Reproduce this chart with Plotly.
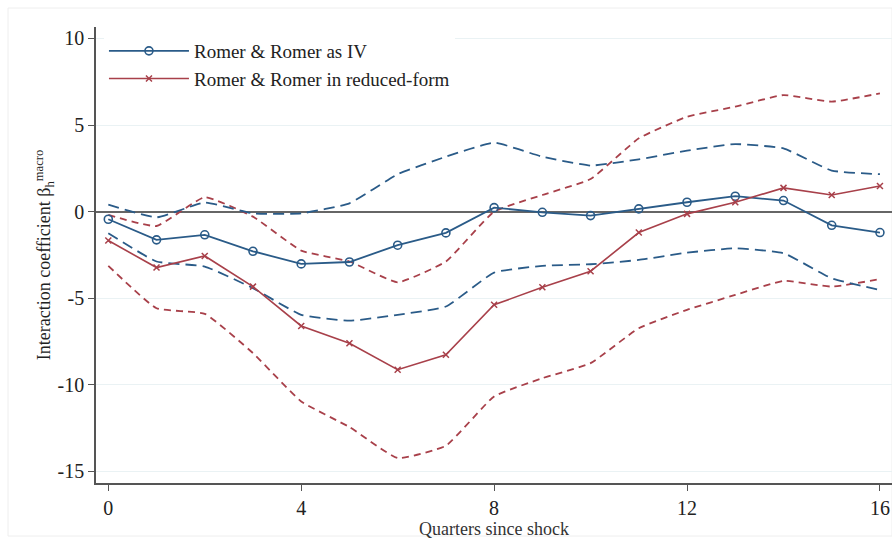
import plotly.graph_objects as go

quarters = list(range(17))

iv_coef = [-0.44, -1.63, -1.34, -2.29, -3.02, -2.91, -1.94, -1.23, 0.23, -0.04, -0.23,
           0.16, 0.54, 0.89, 0.64, -0.79, -1.21]
iv_upper = [0.40, -0.33, 0.52, -0.10, -0.10, 0.48, 2.16, 3.17, 3.98, 3.17, 2.66,
            3.02, 3.52, 3.90, 3.65, 2.37, 2.16]
iv_lower = [-1.25, -2.88, -3.17, -4.42, -5.96, -6.30, -5.96, -5.48, -3.52, -3.13, -3.04,
            -2.79, -2.37, -2.12, -2.40, -3.85, -4.52]

rf_coef = [-1.67, -3.23, -2.56, -4.33, -6.60, -7.60, -9.13, -8.27, -5.38, -4.37, -3.44,
           -1.21, -0.13, 0.54, 1.37, 0.96, 1.48]
rf_upper = [-0.19, -0.83, 0.83, -0.29, -2.25, -2.88, -4.08, -2.88, 0.00, 0.96, 1.88,
            4.23, 5.48, 6.06, 6.73, 6.35, 6.83]
rf_lower = [-3.13, -5.58, -5.90, -8.17, -10.96, -12.44, -14.23, -13.52, -10.67, -9.62, -8.75,
            -6.73, -5.67, -4.81, -4.00, -4.33, -3.90]

x_ticks = [0, 4, 8, 12, 16]
y_ticks = [-15, -10, -5, 0, 5, 10]
y_ticktext = ["-15", "-10", "-5", "0", "5", "10"]

BLUE = "#2a5b88"
RED = "#a8404a"
FONT = "Liberation Serif"

fig = go.Figure()

fig.add_trace(go.Scatter(x=quarters, y=rf_upper, mode="lines", showlegend=False,
                         line=dict(color=RED, width=1.8, dash="7px,5px", shape="spline", smoothing=0.4),
                         hoverinfo="skip"))
fig.add_trace(go.Scatter(x=quarters, y=rf_lower, mode="lines", showlegend=False,
                         line=dict(color=RED, width=1.8, dash="7px,5px", shape="spline", smoothing=0.4),
                         hoverinfo="skip"))
fig.add_trace(go.Scatter(x=quarters, y=iv_upper, mode="lines", showlegend=False,
                         line=dict(color=BLUE, width=1.8, dash="11px,6px", shape="spline", smoothing=0.4),
                         hoverinfo="skip"))
fig.add_trace(go.Scatter(x=quarters, y=iv_lower, mode="lines", showlegend=False,
                         line=dict(color=BLUE, width=1.8, dash="11px,6px", shape="spline", smoothing=0.4),
                         hoverinfo="skip"))

fig.add_trace(go.Scatter(x=quarters, y=iv_coef, mode="lines+markers",
                         name="Romer & Romer as IV",
                         line=dict(color=BLUE, width=1.8),
                         marker=dict(symbol="circle-open", size=8, color=BLUE,
                                     line=dict(width=1.6, color=BLUE))))
fig.add_trace(go.Scatter(x=quarters, y=rf_coef, mode="lines+markers",
                         name="Romer & Romer in reduced-form",
                         line=dict(color=RED, width=1.6),
                         marker=dict(symbol="x-thin", size=6, color=RED,
                                     line=dict(width=1.5, color=RED))))

fig.update_layout(
    width=892, height=544,
    margin=dict(l=96, r=0, t=27, b=61),
    paper_bgcolor="white", plot_bgcolor="white",
    font=dict(family=FONT, color="#222222"),
    showlegend=True,
    legend=dict(x=0.01, y=0.989, xanchor="left", yanchor="top",
                bgcolor="white", font=dict(family=FONT, size=19, color="#222222"),
                itemwidth=80, tracegroupgap=0, traceorder="normal"),
    xaxis=dict(range=[-0.255, 16.25], tickvals=x_ticks, showgrid=False, zeroline=False,
               showline=True, linecolor="#555555", linewidth=1.5,
               ticks="outside", ticklen=6, tickcolor="#555555",
               tickfont=dict(family=FONT, size=20, color="#222222"),
               title=dict(text="Quarters since shock", font=dict(family=FONT, size=18, color="#333333"),
                          standoff=0)),
    yaxis=dict(range=[-15.67, 10.66], tickvals=y_ticks, ticktext=y_ticktext,
               showgrid=True, gridcolor="#eaf2f4", gridwidth=1,
               zeroline=True, zerolinecolor="#666666", zerolinewidth=1.5,
               showline=True, linecolor="#555555", linewidth=1.5,
               ticks="outside", ticklen=6, tickcolor="#555555",
               tickfont=dict(family=FONT, size=20, color="#222222"),
               title=dict(text="Interaction coefficient β<sub>h</sub><sup>macro</sup>",
                          font=dict(family=FONT, size=18, color="#222222"), standoff=2)),
)

fig.add_shape(type="rect", xref="paper", yref="paper",
              x0=-88/796, x1=1.0, y0=-53/456, y1=1 + 19/456,
              line=dict(color="#eeeeee", width=1), layer="below")

fig.write_html("out.html", config={"displayModeBar": False},
               post_script="document.body.style.margin='0';document.body.style.overflow='hidden';")
